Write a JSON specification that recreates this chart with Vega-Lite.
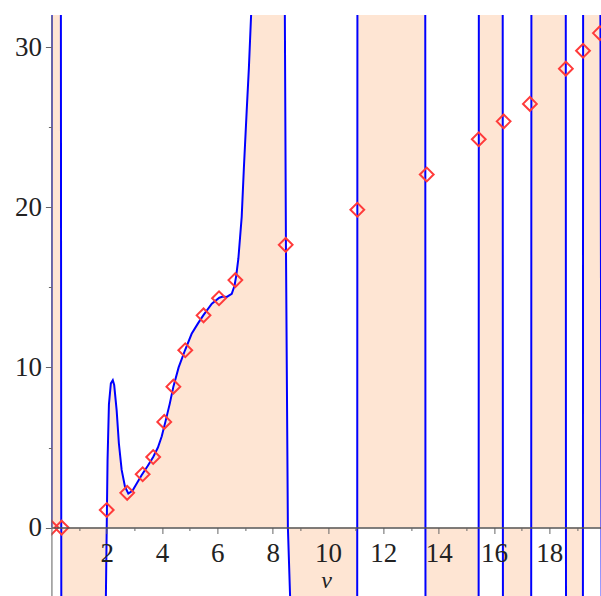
{
  "$schema": "https://vega.github.io/schema/vega-lite/v6.json",
  "width": 549.6,
  "height": 581,
  "autosize": {"type": "none"},
  "padding": {"left": 51.4, "top": 15, "right": 0, "bottom": 0},
  "background": "white",
  "config": {"view": {"stroke": null}},
  "datasets": {
    "curve": [
      {"v": 0, "f": 0}, {"v": 0.01, "f": 40}, {"v": 0.34, "f": 40}, {"v": 0.36, "f": -10},
      {"v": 1.96, "f": -10}, {"v": 1.97, "f": -4.3}, {"v": 2.0, "f": 0}, {"v": 2.03, "f": 4.2},
      {"v": 2.08, "f": 7.7}, {"v": 2.15, "f": 9.0}, {"v": 2.22, "f": 9.2}, {"v": 2.27, "f": 8.9},
      {"v": 2.36, "f": 7.3}, {"v": 2.44, "f": 5.25}, {"v": 2.54, "f": 3.6}, {"v": 2.66, "f": 2.55},
      {"v": 2.78, "f": 2.13}, {"v": 2.93, "f": 2.3}, {"v": 3.1, "f": 2.8}, {"v": 3.26, "f": 3.27},
      {"v": 3.48, "f": 3.85}, {"v": 3.68, "f": 4.41}, {"v": 3.85, "f": 5.0}, {"v": 3.99, "f": 5.7},
      {"v": 4.12, "f": 6.6}, {"v": 4.28, "f": 7.74}, {"v": 4.41, "f": 8.8}, {"v": 4.6, "f": 10.0},
      {"v": 4.83, "f": 11.07}, {"v": 5.07, "f": 12.1}, {"v": 5.3, "f": 12.75}, {"v": 5.49, "f": 13.25},
      {"v": 5.8, "f": 13.98}, {"v": 6.07, "f": 14.35}, {"v": 6.2, "f": 14.42}, {"v": 6.34, "f": 14.4},
      {"v": 6.52, "f": 14.6}, {"v": 6.62, "f": 15.1}, {"v": 6.68, "f": 15.7}, {"v": 6.76, "f": 16.8},
      {"v": 6.88, "f": 19.4}, {"v": 6.96, "f": 22.5}, {"v": 7.06, "f": 26.0}, {"v": 7.14, "f": 28.7},
      {"v": 7.22, "f": 32}, {"v": 7.3, "f": 40},
      {"v": 8.42, "f": 40}, {"v": 8.44, "f": 32}, {"v": 8.48, "f": 17.6}, {"v": 8.55, "f": 0},
      {"v": 8.63, "f": -4.3}, {"v": 8.68, "f": -10},
      {"v": 11.055, "f": -10}, {"v": 11.065, "f": 40},
      {"v": 13.515, "f": 40}, {"v": 13.525, "f": -10},
      {"v": 15.445, "f": -10}, {"v": 15.455, "f": 40},
      {"v": 16.315, "f": 40}, {"v": 16.325, "f": -10},
      {"v": 17.345, "f": -10}, {"v": 17.355, "f": 40},
      {"v": 18.595, "f": 40}, {"v": 18.605, "f": -10},
      {"v": 19.215, "f": -10}, {"v": 19.225, "f": 40},
      {"v": 19.835, "f": 40}, {"v": 19.85, "f": 31}, {"v": 19.9, "f": -10}
    ],
    "pts": [
      {"v": 0, "f": 0}, {"v": 0.37, "f": 0}, {"v": 2.0, "f": 1.1}, {"v": 2.74, "f": 2.17},
      {"v": 3.3, "f": 3.33}, {"v": 3.68, "f": 4.41}, {"v": 4.08, "f": 6.6}, {"v": 4.41, "f": 8.8},
      {"v": 4.84, "f": 11.07}, {"v": 5.5, "f": 13.25}, {"v": 6.06, "f": 14.32}, {"v": 6.65, "f": 15.45},
      {"v": 8.47, "f": 17.65}, {"v": 11.06, "f": 19.84}, {"v": 13.57, "f": 22.04}, {"v": 15.45, "f": 24.24},
      {"v": 16.35, "f": 25.36}, {"v": 17.3, "f": 26.45}, {"v": 18.6, "f": 28.65}, {"v": 19.22, "f": 29.77},
      {"v": 19.83, "f": 30.87}
    ]
  },
  "resolve": {"axis": {"x": "independent"}},
  "layer": [
    {
      "data": {"name": "curve"},
      "mark": {"type": "area", "color": "#FEE5D3", "clip": true, "interpolate": "linear"},
      "encoding": {
        "x": {
          "field": "v", "type": "quantitative",
          "scale": {"domain": [0, 19.87], "nice": false, "zero": false},
          "axis": {
            "orient": "bottom",
            "offset": -68.5,
            "values": [2, 4, 6, 8, 10, 12, 14, 16, 18],
            "tickSize": 6,
            "tickColor": "#666",
            "domainColor": "#555",
            "domainWidth": 1.5,
            "grid": false,
            "labelFont": "Liberation Serif",
            "labelFontSize": 27,
            "labelColor": "#222",
            "labelPadding": 7,
            "labelFlush": false,
            "labelOverlap": false,
            "title": "v",
            "titleFont": "Liberation Serif",
            "titleFontStyle": "italic",
            "titleFontWeight": "normal",
            "titleFontSize": 24,
            "titleColor": "#222",
            "titlePadding": 2,
            "zindex": 1
          }
        },
        "y": {
          "field": "f", "type": "quantitative",
          "scale": {"domain": [-4.27, 32], "nice": false, "zero": false},
          "axis": {
            "values": [0, 5, 10, 15, 20, 25, 30],
            "labelExpr": "datum.value % 10 == 0 ? datum.label : ''",
            "tickSize": {"condition": {"test": "datum.value % 10 == 0", "value": 6}, "value": 3},
            "tickColor": "#666",
            "domainColor": "#666",
            "domainOpacity": 0.7,
            "domainWidth": 1.5,
            "grid": false,
            "labelFont": "Liberation Serif",
            "labelFontSize": 27,
            "labelColor": "#222",
            "labelPadding": 4,
            "labelFlush": false,
            "labelOverlap": false,
            "title": null,
            "zindex": 1
          }
        },
        "y2": {"datum": 0}
      }
    },
    {
      "data": {"name": "curve"},
      "mark": {"type": "line", "color": "#0000FF", "strokeWidth": 2, "clip": true, "interpolate": "linear"},
      "encoding": {
        "x": {"field": "v", "type": "quantitative", "axis": null},
        "y": {"field": "f", "type": "quantitative"}
      }
    },
    {
      "data": {"name": "pts"},
      "mark": {"type": "point", "shape": "diamond", "filled": false, "color": "#FF3B3B", "strokeWidth": 2, "size": 190, "opacity": 1, "clip": true},
      "encoding": {
        "x": {
          "field": "v", "type": "quantitative",
          "axis": {
            "orient": "bottom",
            "offset": -68.5,
            "values": [1, 3, 5, 7, 9, 11, 13, 15, 17, 19],
            "tickSize": 3,
            "tickColor": "#666",
            "labels": false,
            "domain": false,
            "grid": false,
            "title": null,
            "zindex": 1
          }
        },
        "y": {"field": "f", "type": "quantitative"}
      }
    }
  ]
}
